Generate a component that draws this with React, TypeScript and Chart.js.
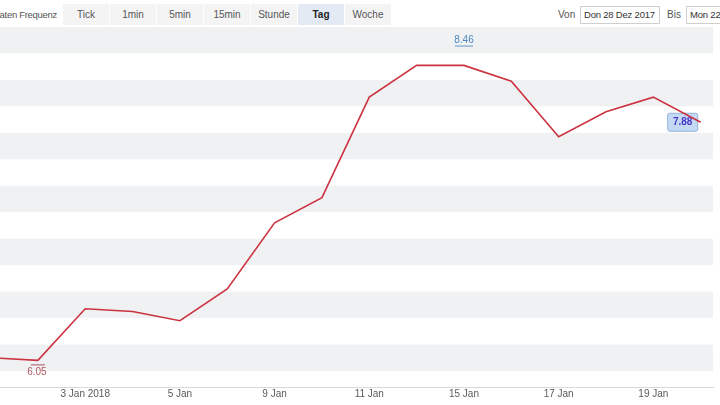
import React, { useEffect, useRef } from "react";
import { Chart, registerables } from "chart.js";

Chart.register(...registerables);

const categories = ["29 Dez", "2 Jan", "3 Jan", "4 Jan", "5 Jan", "8 Jan", "9 Jan", "10 Jan", "11 Jan", "12 Jan", "15 Jan", "16 Jan", "17 Jan", "18 Jan", "19 Jan", "22 Jan"];
const closes = [6.10, 6.08, 6.47, 6.45, 6.38, 6.62, 7.12, 7.31, 8.07, 8.31, 8.31, 8.19, 7.77, 7.96, 8.07, 7.88];
const tickCategories = ["3 Jan", "5 Jan", "9 Jan", "11 Jan", "15 Jan", "17 Jan", "19 Jan"];
const tickLabels = ["3 Jan 2018", "5 Jan", "9 Jan", "11 Jan", "15 Jan", "17 Jan", "19 Jan"];
const highValue = 8.46;
const highCategory = "15 Jan";
const lowValue = 6.05;
const lowCategory = "2 Jan";
const lastValue = 7.88;
const bandStarts = [6.0, 6.4, 6.8, 7.2, 7.6, 8.0, 8.4];
const bandHeight = 0.2;
const frequencies = ["Tick", "1min", "5min", "15min", "Stunde", "Tag", "Woche"];
const selectedFrequency = "Tag";
const fromDate = "Don 28 Dez 2017";
const toDate = "Mon 22 Jan 2018";

const FONT = "'Liberation Sans', Arial, sans-serif";

const bandsPlugin = {
  id: "bands",
  beforeDatasetsDraw(chart: any) {
    const { ctx, chartArea, scales } = chart;
    const ys = scales.y;
    ctx.save();
    ctx.fillStyle = "#f0f1f3";
    for (const b of bandStarts) {
      const y1 = ys.getPixelForValue(b);
      const y2 = ys.getPixelForValue(b + bandHeight);
      ctx.fillRect(chartArea.left, y2, chartArea.right - chartArea.left, y1 - y2);
    }
    const xs = scales.x;
    const lx = xs.getPixelForValue(categories.length - 1);
    const ly = ys.getPixelForValue(lastValue);
    const bx = lx - 33, bw = 30, by = ly - 9, bh = 18;
    ctx.beginPath();
    const r = 2;
    ctx.moveTo(bx + r, by);
    ctx.lineTo(bx + bw - r, by);
    ctx.quadraticCurveTo(bx + bw, by, bx + bw, by + r);
    ctx.lineTo(bx + bw, by + bh - r);
    ctx.quadraticCurveTo(bx + bw, by + bh, bx + bw - r, by + bh);
    ctx.lineTo(bx + r, by + bh);
    ctx.quadraticCurveTo(bx, by + bh, bx, by + bh - r);
    ctx.lineTo(bx, by + r);
    ctx.quadraticCurveTo(bx, by, bx + r, by);
    ctx.closePath();
    ctx.fillStyle = "#c4daf4";
    ctx.fill();
    ctx.strokeStyle = "#93b3d8";
    ctx.lineWidth = 1;
    ctx.stroke();
    ctx.fillStyle = "#4a38c8";
    ctx.font = `bold 10px ${FONT}`;
    ctx.textAlign = "center";
    ctx.textBaseline = "middle";
    ctx.fillText(lastValue.toFixed(2), bx + bw / 2, ly);
    ctx.restore();
  },
};

const markersPlugin = {
  id: "markers",
  afterDatasetsDraw(chart: any) {
    const { ctx, scales } = chart;
    const xs = scales.x, ys = scales.y;
    ctx.save();
    ctx.font = `10px ${FONT}`;
    ctx.textAlign = "center";
    const hx = xs.getPixelForValue(categories.indexOf(highCategory));
    const hy = ys.getPixelForValue(highValue);
    ctx.strokeStyle = "#5f97c9";
    ctx.lineWidth = 1;
    ctx.beginPath();
    ctx.moveTo(hx - 9, hy + 0.5);
    ctx.lineTo(hx + 9, hy + 0.5);
    ctx.stroke();
    ctx.fillStyle = "#4d88bf";
    ctx.textBaseline = "bottom";
    ctx.fillText(highValue.toFixed(2), hx, hy);
    const lx = xs.getPixelForValue(categories.indexOf(lowCategory));
    const ly = ys.getPixelForValue(lowValue);
    ctx.strokeStyle = "#a8506a";
    ctx.beginPath();
    ctx.moveTo(lx - 7, ly + 0.5);
    ctx.lineTo(lx + 7, ly + 0.5);
    ctx.stroke();
    ctx.fillStyle = "#b0585f";
    ctx.textBaseline = "top";
    ctx.fillText(lowValue.toFixed(2), lx - 1, ly + 3);
    ctx.restore();
  },
};

function ChartCanvas() {
  const ref = useRef<HTMLCanvasElement | null>(null);
  useEffect(() => {
    if (!ref.current) return;
    const tickIdx = tickCategories.map((c) => categories.indexOf(c));
    const chart = new Chart(ref.current, {
      type: "line",
      data: {
        datasets: [
          {
            data: closes.map((v, i) => ({ x: i, y: v })),
            borderColor: "#cc3340",
            borderWidth: 1.6,
            pointRadius: 0,
            tension: 0,
            fill: false,
          },
        ],
      },
      options: {
        animation: false,
        responsive: false,
        devicePixelRatio: 1,
        layout: { padding: { top: 27, right: 7, left: 0, bottom: 4 } },
        plugins: { legend: { display: false }, tooltip: { enabled: false } },
        scales: {
          x: {
            type: "linear",
            min: 0.2,
            max: 15.26,
            grid: { display: false, drawTicks: false },
            border: { display: true, color: "#d9d9d9", width: 1 },
            afterBuildTicks: (axis: any) => {
              axis.ticks = tickIdx.map((v) => ({ value: v }));
            },
            ticks: {
              padding: 1,
              autoSkip: false,
              maxRotation: 0,
              color: "#5a5a5a",
              font: { family: FONT, size: 10 },
              callback: (v: any) => {
                const k = tickIdx.indexOf(Number(v));
                return k >= 0 ? tickLabels[k] : "";
              },
            },
          },
          y: {
            type: "linear",
            display: false,
            min: 5.879,
            max: 8.6,
          },
        },
      },
      plugins: [bandsPlugin, markersPlugin],
    } as any);
    return () => chart.destroy();
  }, []);
  return <canvas ref={ref} width={720} height={405} style={{ position: "absolute", left: 0, top: 0 }} />;
}

export default function App() {
  const btnStyle = (sel: boolean): React.CSSProperties => ({
    position: "absolute",
    top: 4,
    height: 21,
    width: 46,
    lineHeight: "21px",
    textAlign: "center",
    background: sel ? "#e3eaf4" : "#f4f4f5",
    color: sel ? "#222" : "#555",
    fontWeight: sel ? "bold" : "normal",
    fontSize: 10,
  });
  const inputStyle: React.CSSProperties = {
    position: "absolute",
    top: 6,
    width: 75,
    height: 16,
    border: "1px solid #cfcfcf",
    fontSize: 9.5,
    letterSpacing: -0.2,
    color: "#333",
    lineHeight: "16px",
    paddingLeft: 3,
    whiteSpace: "nowrap",
    overflow: "hidden",
  };
  return (
    <div style={{ position: "fixed", left: 0, top: 0, width: 720, height: 405, background: "#fff", overflow: "hidden", fontFamily: FONT }}>
      <ChartCanvas />
      <div style={{ position: "absolute", left: 0, top: 0, width: 720, height: 27, background: "#fff" }}>
        <span style={{ position: "absolute", right: 663, top: 9, fontSize: 9.5, letterSpacing: -0.3, color: "#555", whiteSpace: "nowrap" }}>Daten Frequenz</span>
        {frequencies.map((f, i) => (
          <div key={f} style={{ ...btnStyle(f === selectedFrequency), left: 63 + i * 47 }}>{f}</div>
        ))}
        <span style={{ position: "absolute", left: 558, top: 9, fontSize: 10, color: "#555" }}>Von</span>
        <div style={{ ...inputStyle, left: 580 }}>{fromDate}</div>
        <span style={{ position: "absolute", left: 667, top: 9, fontSize: 10, color: "#555" }}>Bis</span>
        <div style={{ ...inputStyle, left: 686 }}>{toDate}</div>
      </div>
    </div>
  );
}
